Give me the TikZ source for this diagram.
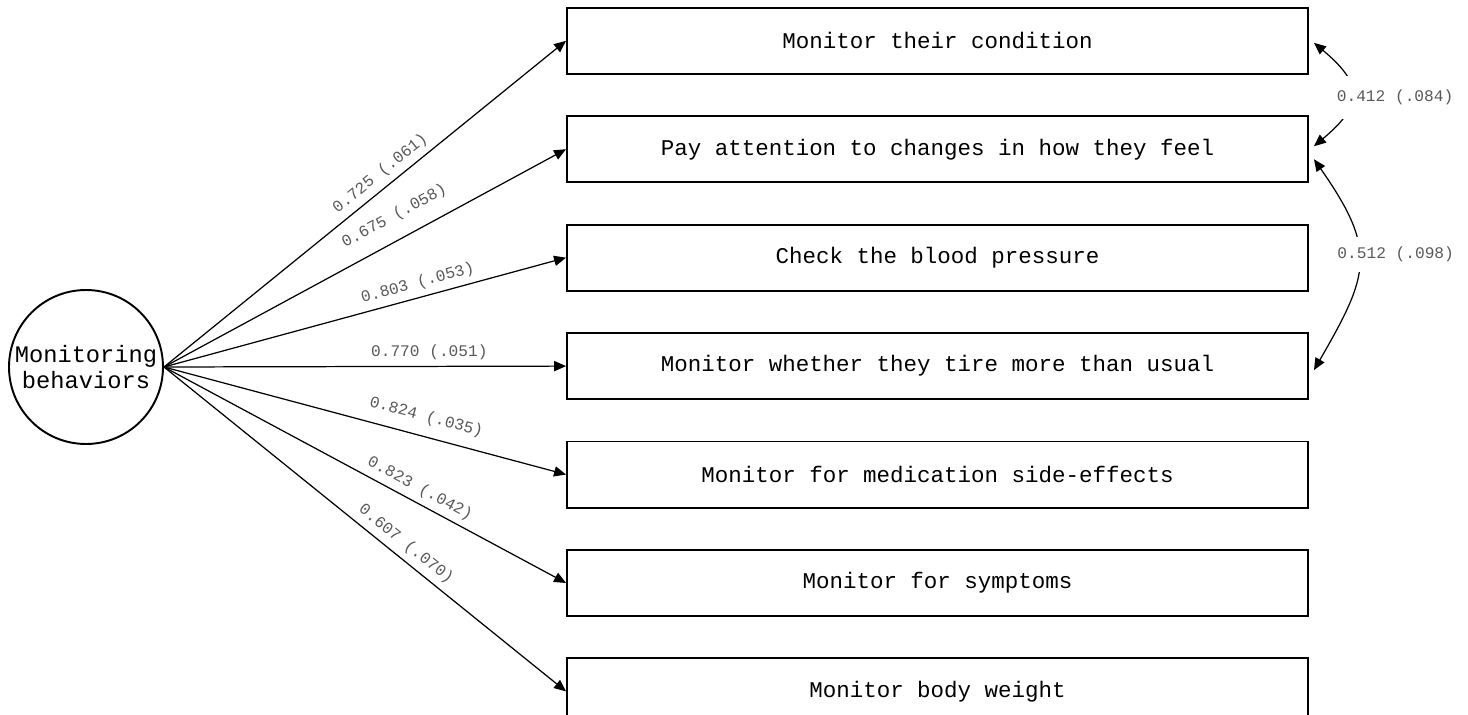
\documentclass[tikz,border=0pt]{standalone}
\usepackage{fontspec}
\setmainfont{Liberation Mono}
\usetikzlibrary{positioning,arrows.meta}
\tikzset{
  factor/.style = {
    circle,
    draw=black,
    line width=1.1pt,
    minimum size=3.08cm,
    inner sep=0pt,
    align=center,
    font=\fontsize{13.5}{14.8}\selectfont
  },
  indicator/.style = {
    rectangle,
    draw=black,
    line width=1.1pt,
    minimum width=14.82cm,
    minimum height=1.32cm,
    font=\fontsize{12.8}{15}\selectfont
  },
  loading/.style = {
    line width=0.7pt,
    -{Triangle[length=6.8pt,width=5.8pt]}
  },
  covar/.style = {
    line width=0.7pt,
    {Triangle[length=6.8pt,width=5.8pt]}-{Triangle[length=6.8pt,width=5.8pt]}
  },
  estimate/.style = {
    font=\fontsize{9.2}{11}\selectfont,
    text=black!65,
    sloped,
    above
  },
  corr/.style = {
    font=\fontsize{9.2}{11}\selectfont,
    text=black!65,
    fill=white,
    inner xsep=3pt
  }
}

\begin{document}
\begin{tikzpicture}[node distance=0.81cm]

\useasboundingbox (0,0) rectangle (29.36,-14.30);

% Faktor
\node[factor] (monitoring) at (1.72,-7.34) {Monitoring\\behaviors};

% Items
\node[indicator] (condition) at (18.75,-0.816) {Monitor their condition};
\node[indicator, below=of condition] (feel) {Pay attention to changes in how they feel};
\node[indicator, below=of feel] (pressure) {Check the blood pressure};
\node[indicator, below=of pressure] (tire) {Monitor whether they tire more than usual};
\node[indicator, below=of tire] (sideeffects) {Monitor for medication side-effects};
\node[indicator, below=of sideeffects] (symptoms) {Monitor for symptoms};
\node[indicator, below=of symptoms] (weight) {Monitor body weight};

% Ladungen
\draw[loading] (monitoring.east) -- node[estimate, pos=0.56] {0.725 (.061)} (condition.west);
\draw[loading] (monitoring.east) -- node[estimate, pos=0.6, above=5pt] {0.675 (.058)} (feel.west);
\draw[loading] (monitoring.east) -- node[estimate, pos=0.64] {0.803 (.053)} (pressure.west);
\draw[loading] (monitoring.east) -- node[estimate, pos=0.66] {0.770 (.051)} (tire.west);
\draw[loading] (monitoring.east) -- node[estimate, pos=0.64, above=3pt] {0.824 (.035)} (sideeffects.west);
\draw[loading] (monitoring.east) -- node[estimate, pos=0.62] {0.823 (.042)} (symptoms.west);
\draw[loading] (monitoring.east) -- node[estimate, pos=0.58] {0.607 (.070)} (weight.west);

% Fehlerkorrelationen
\draw[covar] ([xshift=0.1cm,yshift=-0.04cm]condition.east)
  to[out=-40, in=40, looseness=1.6]
  node[corr, xshift=0.88cm, yshift=-0.06cm, inner ysep=0.27cm] {0.412 (.084)}
  ([xshift=0.1cm,yshift=0.06cm]feel.east);
\draw[covar] ([xshift=0.1cm,yshift=-0.2cm]feel.east)
  to[out=-55, in=60, looseness=1.35]
  node[corr, xshift=0.74cm, yshift=0.16cm, inner ysep=0.2cm] {0.512 (.098)}
  ([xshift=0.1cm,yshift=-0.08cm]tire.east);

\end{tikzpicture}
\end{document}
